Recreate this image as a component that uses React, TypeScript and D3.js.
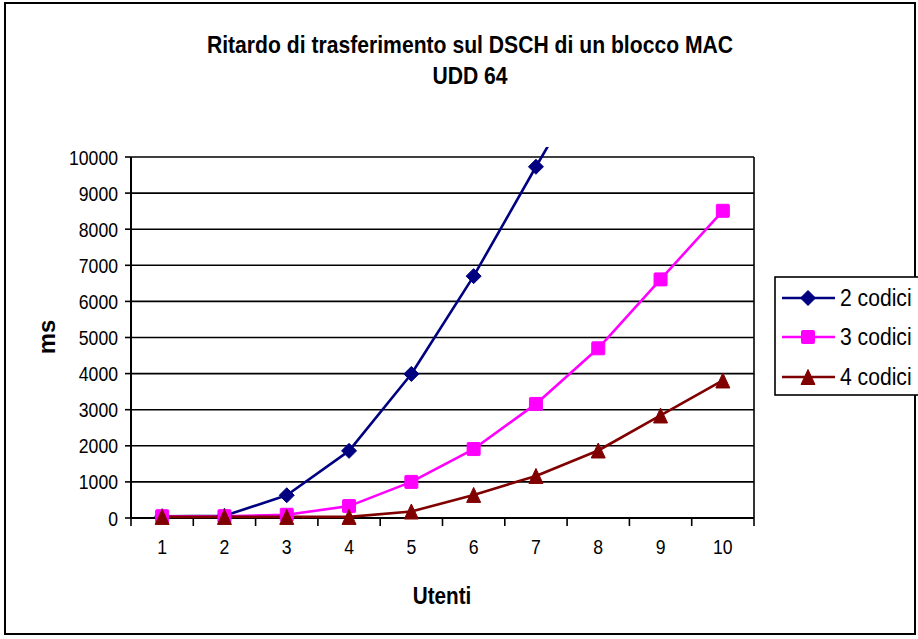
import React from "react";
import * as d3 from "d3";

const categories = ["1", "2", "3", "4", "5", "6", "7", "8", "9", "10"];
const yTicks = [0, 1000, 2000, 3000, 4000, 5000, 6000, 7000, 8000, 9000, 10000];
const codici2 = [50, 60, 630, 1860, 3990, 6700, 9730, 12700];
const codici3 = [50, 50, 90, 330, 1000, 1910, 3160, 4700, 6610, 8510];
const codici4 = [30, 30, 30, 30, 180, 640, 1165, 1870, 2840, 3810];
const seriesNames = ["2 codici", "3 codici", "4 codici"];
const titleLines = ["Ritardo di trasferimento sul DSCH di un blocco MAC", "UDD 64"];
const xTitle = "Utenti";
const yTitle = "ms";

const W = 918;
const H = 639;
const FONT = "'Liberation Sans', Arial, Helvetica, sans-serif";
const SX = 0.84;

const plot = { left: 131, right: 754, top: 157, bottom: 518 };

type Marker = "diamond" | "square" | "triangle";
const series: { name: string; values: number[]; color: string; marker: Marker }[] = [
  { name: seriesNames[0], values: codici2, color: "#000080", marker: "diamond" },
  { name: seriesNames[1], values: codici3, color: "#FF00FF", marker: "square" },
  { name: seriesNames[2], values: codici4, color: "#800000", marker: "triangle" },
];

function MarkerShape({ type, x, y, color }: { type: Marker; x: number; y: number; color: string }) {
  if (type === "diamond") {
    const r = 7.5;
    return <path d={`M${x},${y - r}L${x + r},${y}L${x},${y + r}L${x - r},${y}Z`} fill={color} stroke={color} strokeWidth={1} strokeLinejoin="round" />;
  }
  if (type === "square") {
    const s = 13;
    return <rect x={x - s / 2} y={y - s / 2} width={s} height={s} fill={color} stroke={color} strokeWidth={1} rx={1} />;
  }
  const w = 14, h = 15;
  return <path d={`M${x},${y - h / 2}L${x + w / 2},${y + h / 2}L${x - w / 2},${y + h / 2}Z`} fill={color} stroke={color} strokeWidth={1} strokeLinejoin="round" />;
}

function T({ x, y, children, anchor = "middle", size = 21, weight = "normal", sx = SX, rotate = 0 }: any) {
  return (
    <text
      transform={`translate(${x},${y}) rotate(${rotate}) scale(${sx},1)`}
      textAnchor={anchor}
      fontFamily={FONT}
      fontSize={size}
      fontWeight={weight}
      fill="#000"
    >
      {children}
    </text>
  );
}

export default function App() {
  const x = d3.scaleBand<string>().domain(categories).range([plot.left, plot.right]).padding(0);
  const y = d3.scaleLinear().domain([0, 10000]).range([plot.bottom, plot.top]);
  const cx = (i: number) => (x(categories[i]) as number) + x.bandwidth() / 2;
  const line = d3
    .line<number>()
    .x((_, i) => cx(i))
    .y((d) => y(d));

  const boundaries = d3.range(categories.length + 1).map((i) => plot.left + i * x.bandwidth());

  const legend = { left: 775, top: 277, width: 160, height: 118 };
  const legendRows = [298, 337, 377];

  return (
    <svg width={W} height={H} style={{ position: "fixed", left: 0, top: 0, background: "#fff" }}>
      <defs>
        <clipPath id="plotClip">
          <rect x={plot.left - 20} y={plot.top - 10} width={plot.right - plot.left + 40} height={plot.bottom - plot.top + 40} />
        </clipPath>
      </defs>
      <rect x={0} y={0} width={W} height={H} fill="#fff" />
      <rect x={5} y={3} width={910} height={631} fill="#fff" stroke="#000" strokeWidth={2} />

      {titleLines.map((t, i) => (
        <T key={t} x={470} y={53 + i * 31} weight="bold" size={23} sx={0.92}>
          {t}
        </T>
      ))}

      {/* gridlines */}
      {yTicks.map((v) => (
        <line key={v} x1={plot.left} x2={plot.right} y1={y(v)} y2={y(v)} stroke="#000" strokeWidth={1.6} />
      ))}
      {/* plot border right */}
      <line x1={plot.right} x2={plot.right} y1={plot.top} y2={plot.bottom} stroke="#000" strokeWidth={1.6} />
      {/* y axis */}
      <line x1={plot.left} x2={plot.left} y1={plot.top} y2={plot.bottom + 1} stroke="#000" strokeWidth={2} />
      {yTicks.map((v) => (
        <line key={"t" + v} x1={plot.left - 6} x2={plot.left} y1={y(v)} y2={y(v)} stroke="#000" strokeWidth={1.6} />
      ))}
      {yTicks.map((v) => (
        <T key={"l" + v} x={118} y={y(v) + 7.5} anchor="end">
          {String(v)}
        </T>
      ))}
      {/* x axis */}
      <line x1={plot.left} x2={plot.right} y1={plot.bottom} y2={plot.bottom} stroke="#000" strokeWidth={2} />
      {boundaries.map((b, i) => (
        <line key={"b" + i} x1={b} x2={b} y1={plot.bottom} y2={plot.bottom + 8} stroke="#000" strokeWidth={1.6} />
      ))}
      {categories.map((c, i) => (
        <T key={"c" + c} x={cx(i)} y={554}>
          {c}
        </T>
      ))}

      <T x={442} y={604} weight="bold" size={23} sx={0.9}>
        {xTitle}
      </T>
      <T x={55} y={337} weight="bold" size={24} sx={1} rotate={-90}>
        {yTitle}
      </T>

      {/* series */}
      <g clipPath="url(#plotClip)">
        {series.map((s) => (
          <path key={s.name} d={line(s.values) || ""} fill="none" stroke={s.color} strokeWidth={2.6} strokeLinejoin="round" />
        ))}
        {series.map((s) =>
          s.values.map((v, i) =>
            y(v) >= plot.top - 1 ? <MarkerShape key={s.name + i} type={s.marker} x={cx(i)} y={y(v)} color={s.color} /> : null
          )
        )}
      </g>

      {/* legend */}
      <rect x={legend.left} y={legend.top} width={legend.width} height={legend.height} fill="#fff" stroke="#000" strokeWidth={1.6} />
      {series.map((s, i) => (
        <g key={"lg" + s.name}>
          <line x1={782} x2={835} y1={legendRows[i]} y2={legendRows[i]} stroke={s.color} strokeWidth={2.6} />
          <MarkerShape type={s.marker} x={808} y={legendRows[i]} color={s.color} />
          <T x={840} y={legendRows[i] + 8} anchor="start" size={24} sx={0.88}>
            {s.name}
          </T>
        </g>
      ))}
    </svg>
  );
}
